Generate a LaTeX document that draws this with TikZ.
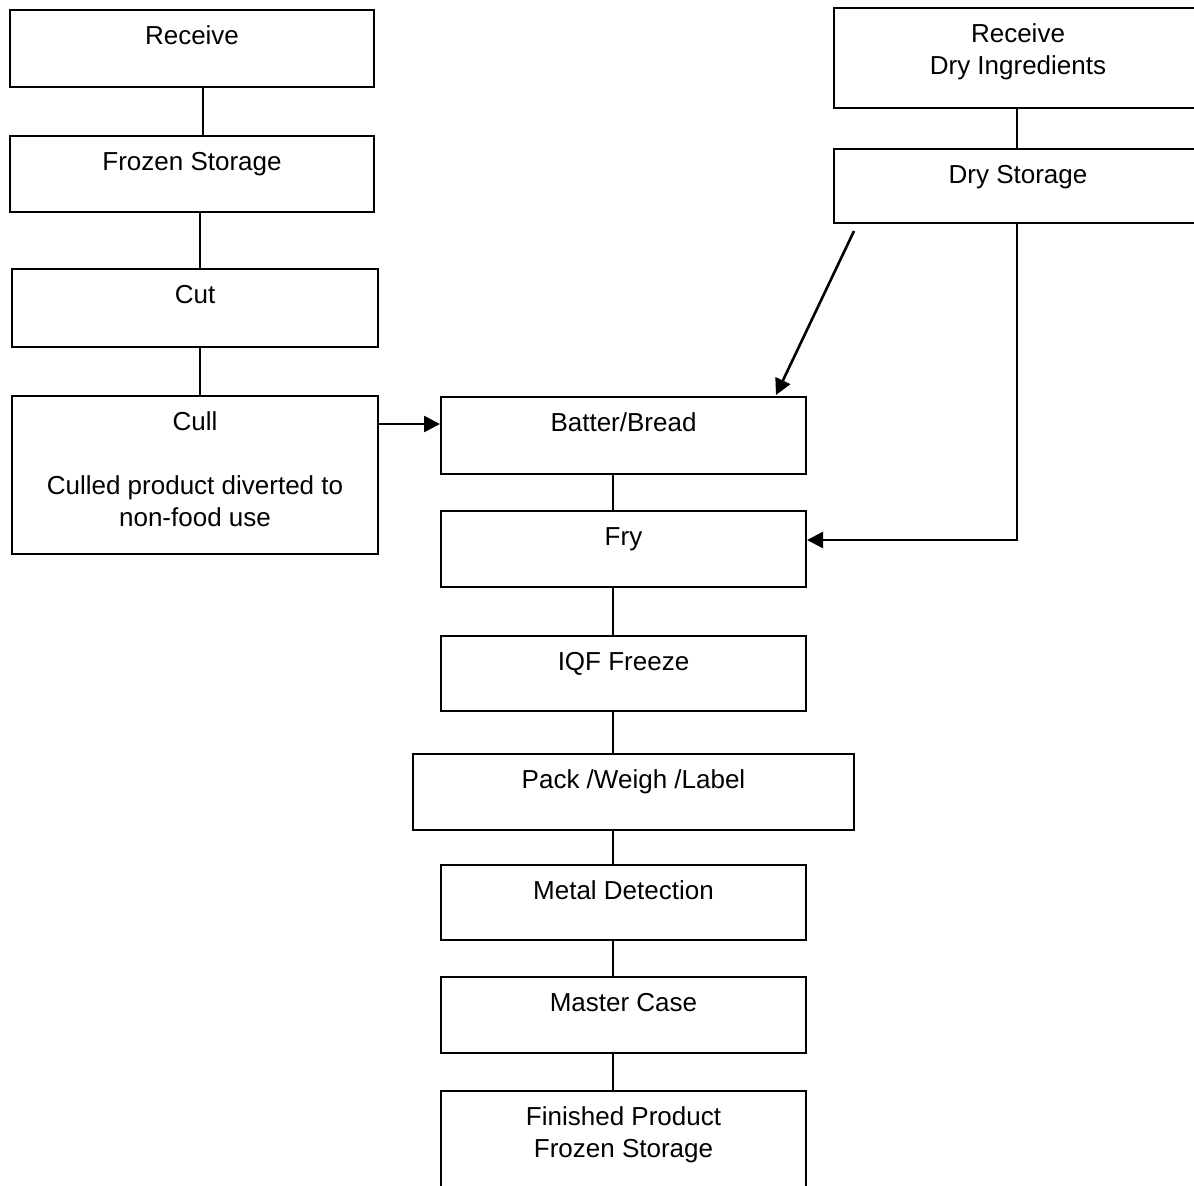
\documentclass[tikz,border=0pt]{standalone}
\usepackage{fontspec}
\setmainfont{Liberation Sans}
\usetikzlibrary{arrows.meta}

\tikzset{
  box/.style={draw, line width=1pt, minimum width=182pt, minimum height=38pt, inner sep=0pt},
  steptext/.style={anchor=north, inner sep=0pt, align=center, yshift=-8pt, font=\fontsize{13}{16}\selectfont},
  stepbox/.style={box, label={[steptext]north:{\rule{0pt}{9.7pt}#1}}},
  link/.style={line width=1pt},
  flow/.style={line width=1.3pt, -{Triangle[length=8pt,width=8pt]}}
}

\begin{document}
\begin{tikzpicture}[x=0.5pt, y=-0.5pt]
    \useasboundingbox (0,0) rectangle (1194,1185);
    % raw product side
    \node[stepbox=Receive, minimum height=38.5pt] (recv) at (192,48.5) {};
    \node[stepbox=Frozen Storage] (frozen) at (192,174) {};
    \node[stepbox=Cut, minimum width=183pt, minimum height=39pt] (cut) at (195,308) {};
    \node[stepbox={Cull\\[16pt]Culled product diverted to\\non-food use}, minimum width=183pt, minimum height=79pt] (cull) at (195,475) {};
    % dry ingredients side
    \node[stepbox={Receive\\Dry Ingredients}, minimum width=184pt, minimum height=50pt] (rdry) at (1018,58) {};
    \node[stepbox=Dry Storage, minimum width=184pt, minimum height=37pt] (dry) at (1018,186) {};
    % main line
    \node[stepbox=Batter/Bread, minimum width=182.5pt, minimum height=38.5pt] (batter) at (623.5,435.5) {};
    \node[stepbox=Fry, minimum width=182.5pt] (fry) at (623.5,549) {};
    \node[stepbox=IQF Freeze, minimum width=182.5pt, minimum height=37.5pt] (iqf) at (623.5,673.5) {};
    \node[stepbox=Pack /Weigh /Label, minimum width=220.5pt] (pack) at (633.5,792) {};
    \node[stepbox=Metal Detection, minimum width=182.5pt, minimum height=37.5pt] (metal) at (623.5,902.5) {};
    \node[stepbox=Master Case, minimum width=182.5pt] (master) at (623.5,1015) {};
    \node[stepbox={Finished Product\\Frozen Storage}, minimum width=182.5pt, minimum height=56pt] (finished) at (623.5,1147) {};

    \coordinate (lcolA) at (203,0);
    \coordinate (lcolB) at (200,0);
    \coordinate (rcol) at (1017,0);
    \coordinate (spine) at (613,0);
    \draw[link] (recv.south -| lcolA) -- (frozen.north -| lcolA);
    \draw[link] (frozen.south -| lcolB) -- (cut.north -| lcolB);
    \draw[link] (cut.south -| lcolB) -- (cull.north -| lcolB);
    \draw[link] (rdry.south -| rcol) -- (dry.north -| rcol);
    \foreach \a/\b in {batter/fry, fry/iqf, iqf/pack, pack/metal, metal/master, master/finished}
        \draw[link] (\a.south -| spine) -- (\b.north -| spine);

    \coordinate (cullout) at ([yshift=25.5pt]cull.east);
    \draw[flow] (cullout) -- (cullout -| batter.west);
    \draw[flow] ([shift={(10.5pt,-3.5pt)}]dry.south west) -- ([shift={(-15.5pt,0.5pt)}]batter.north east);
    \draw[flow] (dry.south -| rcol) |- ([yshift=4.5pt]fry.east);
\end{tikzpicture}
\end{document}
